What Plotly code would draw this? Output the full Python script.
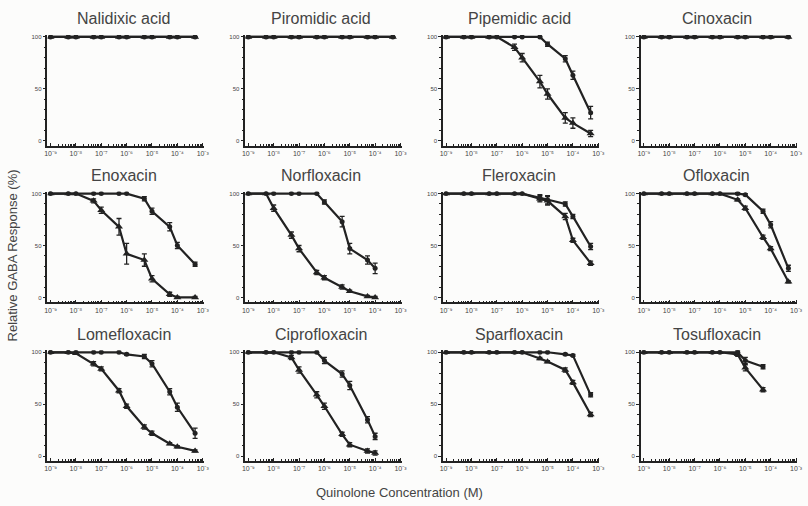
import plotly.graph_objects as go

conc = [1e-9, 5e-9, 1e-8, 5e-8, 1e-7, 5e-7, 1e-6, 5e-6, 1e-5, 5e-5, 1e-4, 5e-4]
drugs = ["Nalidixic acid", "Piromidic acid", "Pipemidic acid", "Cinoxacin",
         "Enoxacin", "Norfloxacin", "Fleroxacin", "Ofloxacin",
         "Lomefloxacin", "Ciprofloxacin", "Sparfloxacin", "Tosufloxacin"]

N = None
flat = [100] * 12
zero = [0] * 12

# series A (triangles) and B (circles): response %, and SEM
nalidixic_a, nalidixic_b = flat, flat
piromidic_a, piromidic_b = flat, flat
cinoxacin_a, cinoxacin_b = flat, flat
pipemidic_a = [100, 100, 100, 100, 100, 90, 80, 57, 45, 22, 17, 7]
pipemidic_ea = [0, 0, 0, 0, 0, 3, 4, 6, 5, 5, 5, 3]
pipemidic_b = [100, 100, 100, 100, 100, 100, 100, 100, 93, 79, 63, 27]
pipemidic_eb = [0, 0, 0, 0, 0, 0, 0, 0, 2, 3, 4, 6]
enoxacin_a = [100, 100, 100, 93, 84, 68, 42, 36, 18, 3, 0, 0]
enoxacin_ea = [0, 0, 0, 2, 3, 8, 10, 6, 3, 2, 1, 1]
enoxacin_b = [100, 100, 100, 100, 100, 100, 100, 95, 83, 68, 50, 32]
enoxacin_eb = [0, 0, 0, 0, 0, 0, 0, 2, 3, 4, 3, 2]
norfloxacin_a = [100, 100, 86, 60, 47, 24, 19, 10, 6, 1, 0, N]
norfloxacin_ea = [0, 0, 3, 3, 3, 2, 2, 2, 1, 1, 1, 0]
norfloxacin_b = [100, 100, 100, 100, 100, 100, 92, 73, 47, 36, 28, N]
norfloxacin_eb = [0, 0, 0, 0, 0, 0, 2, 5, 5, 4, 5, 0]
fleroxacin_a = [100, 100, 100, 100, 100, 100, 100, 95, 93, 78, 55, 33]
fleroxacin_ea = [0, 0, 0, 0, 0, 0, 0, 3, 4, 3, 2, 2]
fleroxacin_b = [100, 100, 100, 100, 100, 100, 100, 96, 94, 90, 78, 49]
fleroxacin_eb = [0, 0, 0, 0, 0, 0, 0, 3, 4, 2, 2, 3]
ofloxacin_a = [100, 100, 100, 100, 100, 100, 100, 94, 86, 58, 47, 15]
ofloxacin_ea = [0, 0, 0, 0, 0, 0, 0, 1, 2, 2, 2, 1]
ofloxacin_b = [100, 100, 100, 100, 100, 100, 100, 100, 99, 83, 70, 28]
ofloxacin_eb = [0, 0, 0, 0, 0, 0, 0, 1, 1, 2, 3, 3]
lomefloxacin_a = [100, 100, 99, 89, 84, 63, 48, 28, 22, 12, 9, 5]
lomefloxacin_ea = [0, 0, 1, 2, 2, 2, 2, 2, 2, 1, 1, 1]
lomefloxacin_b = [100, 100, 100, 100, 100, 100, 98, 96, 89, 62, 47, 22]
lomefloxacin_eb = [0, 0, 0, 0, 0, 0, 1, 2, 3, 3, 4, 5]
ciprofloxacin_a = [100, 100, 100, 95, 83, 59, 48, 21, 11, 5, 3, N]
ciprofloxacin_ea = [0, 0, 0, 2, 3, 3, 3, 2, 2, 2, 2, 0]
ciprofloxacin_b = [100, 100, 100, 100, 100, 100, 92, 79, 68, 35, 19, N]
ciprofloxacin_eb = [0, 0, 0, 0, 0, 0, 3, 3, 4, 3, 3, 0]
sparfloxacin_a = [100, 100, 100, 100, 100, 100, 100, 94, 91, 83, 71, 40]
sparfloxacin_ea = [0, 0, 0, 0, 0, 0, 0, 1, 1, 2, 2, 2]
sparfloxacin_b = [100, 100, 100, 100, 100, 100, 100, 100, 100, 98, 97, 59]
sparfloxacin_eb = [0, 0, 0, 0, 0, 0, 0, 0, 0, 1, 1, 2]
tosufloxacin_a = [100, 100, 100, 100, 100, 100, 100, 98, 85, 64, N, N]
tosufloxacin_ea = [0, 0, 0, 0, 0, 0, 0, 2, 3, 2, 0, 0]
tosufloxacin_b = [100, 100, 100, 100, 100, 100, 100, 100, 92, 86, N, N]
tosufloxacin_eb = [0, 0, 0, 0, 0, 0, 0, 2, 3, 2, 0, 0]

series = [
    (nalidixic_a, zero, nalidixic_b, zero),
    (piromidic_a, zero, piromidic_b, zero),
    (pipemidic_a, pipemidic_ea, pipemidic_b, pipemidic_eb),
    (cinoxacin_a, zero, cinoxacin_b, zero),
    (enoxacin_a, enoxacin_ea, enoxacin_b, enoxacin_eb),
    (norfloxacin_a, norfloxacin_ea, norfloxacin_b, norfloxacin_eb),
    (fleroxacin_a, fleroxacin_ea, fleroxacin_b, fleroxacin_eb),
    (ofloxacin_a, ofloxacin_ea, ofloxacin_b, ofloxacin_eb),
    (lomefloxacin_a, lomefloxacin_ea, lomefloxacin_b, lomefloxacin_eb),
    (ciprofloxacin_a, ciprofloxacin_ea, ciprofloxacin_b, ciprofloxacin_eb),
    (sparfloxacin_a, sparfloxacin_ea, sparfloxacin_b, sparfloxacin_eb),
    (tosufloxacin_a, tosufloxacin_ea, tosufloxacin_b, tosufloxacin_eb),
]

x_tickvals = [1e-9, 1e-8, 1e-7, 1e-6, 1e-5, 1e-4, 1e-3]
x_ticktext = ["10⁻⁹", "10⁻⁸", "10⁻⁷", "10⁻⁶", "10⁻⁵", "10⁻⁴", "10⁻³"]
x_minor = [m * 10 ** e for e in range(-9, -3) for m in range(2, 10)]

W, H = 808, 506
INK = "#222222"
TXT = "#444444"
FONT = "Liberation Sans, Arial, sans-serif"

fig = go.Figure()
layout = dict(width=W, height=H, margin=dict(l=0, r=0, t=0, b=0),
              paper_bgcolor="#fcfcfb", plot_bgcolor="#fcfcfb", showlegend=False,
              font=dict(family=FONT, color=TXT))
annotations = []
row_tops = [34, 191, 350]

for i, name in enumerate(drugs):
    r, c = divmod(i, 4)
    k = i + 1
    xs = "x" if k == 1 else f"x{k}"
    ys = "y" if k == 1 else f"y{k}"
    ya, ea, yb, eb = series[i]
    for yv, ev, sym, sz in ((ya, ea, "triangle-up", 7), (yb, eb, "circle", 5)):
        fig.add_trace(go.Scatter(
            x=conc, y=yv, xaxis=xs, yaxis=ys, mode="lines+markers",
            line=dict(color=INK, width=2.2),
            marker=dict(symbol=sym, size=sz, color=INK),
            error_y=dict(type="data", array=ev, visible=True, color=INK,
                         thickness=1.3, width=2.5),
            connectgaps=False, hoverinfo="skip"))
    left, right = 45 + 200 * c, 203 + 200 * c
    top = row_tops[r]
    bottom = top + 111
    layout[f"xaxis{'' if k == 1 else k}"] = dict(
        domain=[left / W, right / W], anchor=ys, type="log",
        range=[-9.12, -2.96], showline=True, linecolor=INK, linewidth=1.5,
        showgrid=False, zeroline=False, ticks="inside", ticklen=3,
        tickcolor=INK, tickwidth=1, tickvals=x_tickvals, ticktext=x_ticktext,
        tickfont=dict(size=7, color=TXT),
        minor=dict(tickvals=x_minor, ticks="inside", ticklen=2, tickcolor=INK,
                   showgrid=False))
    layout[f"yaxis{'' if k == 1 else k}"] = dict(
        domain=[1 - bottom / H, 1 - top / H], anchor=xs,
        range=[-4.8, 101.9], showline=True, linecolor=INK, linewidth=1.5,
        showgrid=False, zeroline=False, ticks="outside", ticklen=3,
        tickcolor=INK, tickvals=[0, 50, 100], tickfont=dict(size=6, color=TXT),
        minor=dict(tickvals=[10, 20, 30, 40, 60, 70, 80, 90], ticks="outside",
                   ticklen=2, tickcolor=INK, showgrid=False))
    annotations.append(dict(
        text=name, x=(left + 77) / W, y=1 - (top - 16) / H, xref="paper",
        yref="paper", showarrow=False, xanchor="center", yanchor="middle",
        font=dict(size=16, color=TXT, family=FONT)))

annotations.append(dict(text="Relative GABA Response (%)", x=10 / W, y=1 - 255 / H,
                        xref="paper", yref="paper", showarrow=False, textangle=-90,
                        xanchor="center", yanchor="middle",
                        font=dict(size=13, color=TXT, family=FONT)))
annotations.append(dict(text="Quinolone Concentration (M)", x=401 / W, y=1 - 492 / H,
                        xref="paper", yref="paper", showarrow=False,
                        xanchor="center", yanchor="middle",
                        font=dict(size=13, color=TXT, family=FONT)))
layout["annotations"] = annotations
fig.update_layout(**layout)
fig.write_html("out.html")
